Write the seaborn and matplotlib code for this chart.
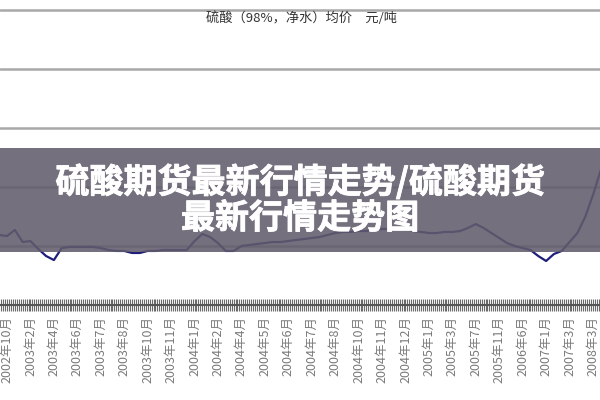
import matplotlib
matplotlib.use("Agg")
import matplotlib.pyplot as plt
import matplotlib.patheffects as pe
from matplotlib.patches import Rectangle
from matplotlib.ticker import MultipleLocator, FixedLocator
import seaborn as sns
import pandas as pd
import numpy as np

# ---- data ----
tick_labels = ["2002年10月", "2003年2月", "2003年4月", "2003年6月", "2003年7月",
               "2003年8月", "2003年10月", "2003年11月", "2004年1月", "2004年2月",
               "2004年4月", "2004年5月", "2004年6月", "2004年7月", "2004年8月",
               "2004年10月", "2004年11月", "2004年12月", "2005年1月", "2005年3月",
               "2005年7月", "2005年11月", "2006年6月", "2007年1月", "2007年3月",
               "2008年3月"]
price = [593, 585, 636, 534, 542, 475, 415, 381, 483, 492,
         492, 492, 492, 483, 466, 458, 458, 441, 441, 458,
         458, 466, 466, 466, 466, 542, 602, 576, 525, 458,
         458, 500, 508, 517, 525, 534, 534, 542, 551, 559,
         568, 576, 593, 610, 619, 619, 627, 627, 636, 644,
         644, 653, 644, 627, 619, 610, 610, 619, 619, 627,
         653, 686, 653, 610, 568, 525, 500, 483, 466, 415,
         373, 432, 458, 534, 610, 746, 932, 1144]
title_text = "硫酸（98%，净水）均价　元/吨"
banner_line1 = "硫酸期货最新行情走势/硫酸期货"
banner_line2 = "最新行情走势图"

df = pd.DataFrame({"idx": np.arange(len(price)), "price": price})

sns.set_theme(style="white")
plt.rcParams["font.family"] = ["Noto Sans CJK SC", "DejaVu Sans"]

fig = plt.figure(figsize=(6, 4), dpi=100)
ax = fig.add_axes([0.0, 0.2375, 1.0, 0.995 - 0.2375])

sns.lineplot(data=df, x="idx", y="price", ax=ax, color="#1f1f7a",
             linewidth=1.6, zorder=3)

ax.set_xlim(0.1, 76.9)
ax.set_ylim(0, 2568)
ax.set_yticks([500, 1000, 1500, 2000, 2500])
ax.yaxis.grid(True, color="#a8a8a8", linewidth=1.8)
ax.set_yticklabels([])
ax.tick_params(axis="y", length=0)

label_pos = [1 + 3 * k for k in range(len(tick_labels))]
ax.xaxis.set_major_locator(FixedLocator(label_pos))
ax.set_xticklabels(tick_labels, rotation=90, fontsize=9, color="#7a7a7a")
ax.xaxis.set_minor_locator(MultipleLocator(0.25))
ax.tick_params(axis="x", which="both", direction="inout", length=8,
               width=0.8, color="#6a6a6a", bottom=True, pad=4)

ax.set_xlabel("")
ax.set_ylabel("")
for s in ["top", "left", "right"]:
    ax.spines[s].set_visible(False)
ax.spines["bottom"].set_color("#555555")
ax.spines["bottom"].set_linewidth(1.5)

fig.text(0.503, 1 - 18 / 400, title_text, ha="center", va="center",
         fontsize=9.5, color="#333333")

# semi-transparent banner with overlay title
fig.add_artist(Rectangle((0, 0.37), 1, 0.26, transform=fig.transFigure,
                         facecolor="#625c6c", alpha=0.88, edgecolor="none",
                         zorder=10))
stroke = [pe.withStroke(linewidth=0.6, foreground="white")]
fig.text(0.5, 1 - 182 / 400, banner_line1, ha="center", va="center",
         fontsize=24.5, fontweight="bold", color="white", zorder=11,
         path_effects=stroke)
fig.text(0.5, 1 - 218 / 400, banner_line2, ha="center", va="center",
         fontsize=24.5, fontweight="bold", color="white", zorder=11,
         path_effects=stroke)

fig.savefig("out.png", dpi=100)
